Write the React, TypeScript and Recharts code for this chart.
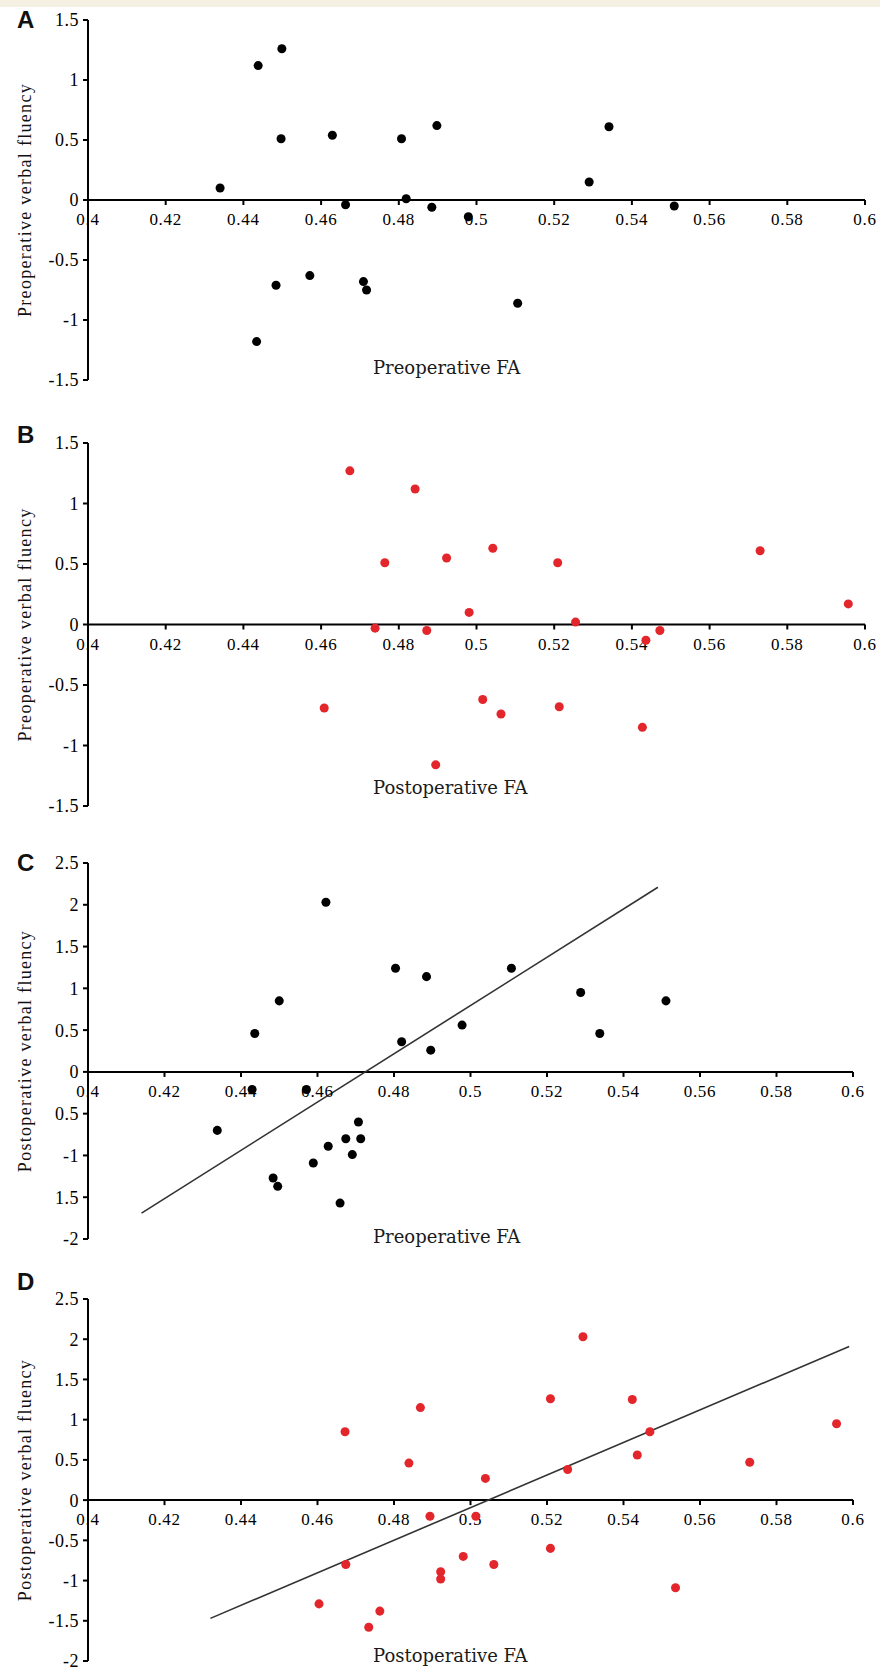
import { ReferenceDot, ReferenceLine, Scatter, ScatterChart, XAxis, YAxis, ZAxis } from "recharts";

// [FA, verbal fluency] pairs
const panelA = [
  [0.434, 0.1], [0.4438, 1.12], [0.4499, 1.26], [0.4497, 0.51], [0.4629, 0.54], [0.4807, 0.51],
  [0.4898, 0.62], [0.4663, -0.04], [0.4819, 0.01], [0.4885, -0.06], [0.4484, -0.71], [0.4571, -0.63],
  [0.4709, -0.68], [0.4717, -0.75], [0.4434, -1.18], [0.5341, 0.61], [0.529, 0.15], [0.4979, -0.14],
  [0.5509, -0.05], [0.5106, -0.86],
];
const panelB = [
  [0.4674, 1.27], [0.4842, 1.12], [0.4764, 0.51], [0.4739, -0.03], [0.4872, -0.05], [0.4608, -0.69],
  [0.4895, -1.16], [0.4923, 0.55], [0.5042, 0.63], [0.5209, 0.51], [0.573, 0.61], [0.5957, 0.17],
  [0.4981, 0.1], [0.5255, 0.02], [0.5472, -0.05], [0.5436, -0.13], [0.5016, -0.62], [0.5063, -0.74],
  [0.5213, -0.68], [0.5427, -0.85],
];
const panelC = [
  [0.4622, 2.03], [0.4804, 1.24], [0.4885, 1.14], [0.45, 0.85], [0.4436, 0.46], [0.482, 0.36],
  [0.4896, 0.26], [0.4429, -0.21], [0.4571, -0.21], [0.4338, -0.7], [0.4707, -0.6], [0.4674, -0.8],
  [0.4713, -0.8], [0.4628, -0.89], [0.4691, -0.99], [0.4589, -1.09], [0.4484, -1.27], [0.4496, -1.37],
  [0.4659, -1.57], [0.5107, 1.24], [0.5288, 0.95], [0.5511, 0.85], [0.4978, 0.56], [0.5338, 0.46],
];
const panelD = [
  [0.4672, 0.85], [0.4869, 1.15], [0.4839, 0.46], [0.4894, -0.2], [0.4674, -0.8], [0.4604, -1.29],
  [0.4763, -1.38], [0.4734, -1.58], [0.5294, 2.03], [0.5209, 1.26], [0.5423, 1.25], [0.5957, 0.95],
  [0.5469, 0.85], [0.5436, 0.56], [0.573, 0.47], [0.5254, 0.38], [0.5039, 0.27], [0.5014, -0.2],
  [0.5209, -0.6], [0.4981, -0.7], [0.5061, -0.8], [0.4922, -0.89], [0.4922, -0.98], [0.5536, -1.09],
];

// fitted lines (end points)
const trendC = [{ x: 0.414, y: -1.69 }, { x: 0.549, y: 2.21 }];
const trendD = [{ x: 0.432, y: -1.47 }, { x: 0.599, y: 1.91 }];

const xTicks = [0.4, 0.42, 0.44, 0.46, 0.48, 0.5, 0.52, 0.54, 0.56, 0.58, 0.6];
const xTickLabels = ["0.4", "0.42", "0.44", "0.46", "0.48", "0.5", "0.52", "0.54", "0.56", "0.58", "0.6"];

const yTicksPre = [-1.5, -1, -0.5, 0, 0.5, 1, 1.5];
const yLabelsPre = ["-1.5", "-1", "-0.5", "0", "0.5", "1", "1.5"];
const yTicksPost = [-2, -1.5, -1, -0.5, 0, 0.5, 1, 1.5, 2, 2.5];
const yLabelsC = ["-2", "1.5", "-1", "0.5", "0", "0.5", "1", "1.5", "2", "2.5"];
const yLabelsD = ["-2", "-1.5", "-1", "-0.5", "0", "0.5", "1", "1.5", "2", "2.5"];

const RED = "#e3262b";
const SERIF = "'Liberation Serif', 'Times New Roman', serif";

const toPoints = (rows: number[][]) => rows.map(([x, y]) => ({ x, y }));

interface PanelProps {
  top: number;
  height: number;
  margin: { top: number; right: number; bottom: number; left: number };
  letter: string;
  letterTop: number;
  yLabel: string;
  xTitle: string;
  titleTop: number;
  yDomain: [number, number];
  yTicks: number[];
  yLabels: string[];
  data: number[][];
  color: string;
  trend?: { x: number; y: number }[];
}

function Panel(p: PanelProps) {
  const fmt = (v: number) => {
    const i = p.yTicks.findIndex((t) => Math.abs(t - v) < 1e-9);
    return i >= 0 ? p.yLabels[i] : String(v);
  };
  return (
    <div style={{ position: "absolute", left: 0, top: p.top, width: 880, height: p.height }}>
      <ScatterChart width={880} height={p.height} margin={p.margin}>
        <XAxis type="number" dataKey="x" domain={[0.4, 0.6]} hide />
        <YAxis
          type="number"
          dataKey="y"
          domain={p.yDomain}
          ticks={p.yTicks}
          interval={0}
          tickFormatter={fmt}
          width={70}
          tickSize={5}
          tickMargin={4}
          axisLine={{ stroke: "#000", strokeWidth: 2 }}
          tickLine={{ stroke: "#000", strokeWidth: 2 }}
          tick={{ fontSize: 18, fontFamily: SERIF, fill: "#000", letterSpacing: 0.5 }}
          label={{
            value: p.yLabel,
            angle: -90,
            position: "insideLeft",
            offset: 7,
            style: { textAnchor: "middle", fontFamily: SERIF, fontSize: 18, fill: "#111", letterSpacing: 1.3 },
          }}
        />
        <ZAxis range={[60, 60]} />
        <ReferenceLine y={0} stroke="#000" strokeWidth={2} />
        {xTicks.map((t, i) => (
          <ReferenceDot
            key={t}
            x={t}
            y={0}
            ifOverflow="visible"
            shape={(s: any) => (
              <g>
                <line x1={s.cx} y1={s.cy} x2={s.cx} y2={s.cy + 5} stroke="#000" strokeWidth={2} />
                <text
                  x={s.cx}
                  y={s.cy + 25}
                  textAnchor="middle"
                  fontFamily={SERIF}
                  fontSize={17}
                  letterSpacing={0.7}
                  fill="#000"
                >
                  {xTickLabels[i]}
                </text>
              </g>
            )}
          />
        ))}
        {p.trend && (
          <ReferenceLine segment={p.trend} stroke="#333" strokeWidth={1.6} ifOverflow="visible" />
        )}
        <Scatter data={toPoints(p.data)} fill={p.color} shape="circle" isAnimationActive={false} />
      </ScatterChart>
      <div
        style={{
          position: "absolute",
          left: 17,
          top: p.letterTop,
          fontFamily: "'Liberation Sans', Arial, sans-serif",
          fontWeight: 700,
          fontSize: 24,
          lineHeight: "24px",
          color: "#111",
        }}
      >
        {p.letter}
      </div>
      <div
        style={{
          position: "absolute",
          left: 373,
          top: p.titleTop,
          fontFamily: "'DejaVu Serif', serif",
          fontSize: 18,
          lineHeight: "20px",
          color: "#1a1a1a",
          whiteSpace: "nowrap",
        }}
      >
        {p.xTitle}
      </div>
    </div>
  );
}

export default function App() {
  return (
    <div style={{ position: "absolute", left: 0, top: 0, width: 880, height: 1671, background: "#fff", overflow: "hidden" }}>
      <div style={{ position: "absolute", left: 0, top: 0, width: 880, height: 7, background: "#f4f0e2" }} />
      <Panel
        top={0}
        height={400}
        margin={{ top: 20, right: 15, bottom: 20, left: 18 }}
        letter="A"
        letterTop={8}
        yLabel="Preoperative verbal fluency"
        xTitle="Preoperative FA"
        titleTop={358}
        yDomain={[-1.5, 1.5]}
        yTicks={yTicksPre}
        yLabels={yLabelsPre}
        data={panelA}
        color="#000"
      />
      <Panel
        top={423}
        height={400}
        margin={{ top: 20, right: 15, bottom: 17, left: 18 }}
        letter="B"
        letterTop={0}
        yLabel="Preoperative verbal fluency"
        xTitle="Postoperative FA"
        titleTop={355}
        yDomain={[-1.5, 1.5]}
        yTicks={yTicksPre}
        yLabels={yLabelsPre}
        data={panelB}
        color={RED}
      />
      <Panel
        top={842}
        height={420}
        margin={{ top: 21, right: 27, bottom: 23, left: 18 }}
        letter="C"
        letterTop={9}
        yLabel="Postoperative verbal fluency"
        xTitle="Preoperative FA"
        titleTop={385}
        yDomain={[-2, 2.5]}
        yTicks={yTicksPost}
        yLabels={yLabelsC}
        data={panelC}
        color="#000"
        trend={trendC}
      />
      <Panel
        top={1279}
        height={392}
        margin={{ top: 20, right: 27, bottom: 10, left: 18 }}
        letter="D"
        letterTop={-9}
        yLabel="Postoperative verbal fluency"
        xTitle="Postoperative FA"
        titleTop={367}
        yDomain={[-2, 2.5]}
        yTicks={yTicksPost}
        yLabels={yLabelsD}
        data={panelD}
        color={RED}
        trend={trendD}
      />
    </div>
  );
}
